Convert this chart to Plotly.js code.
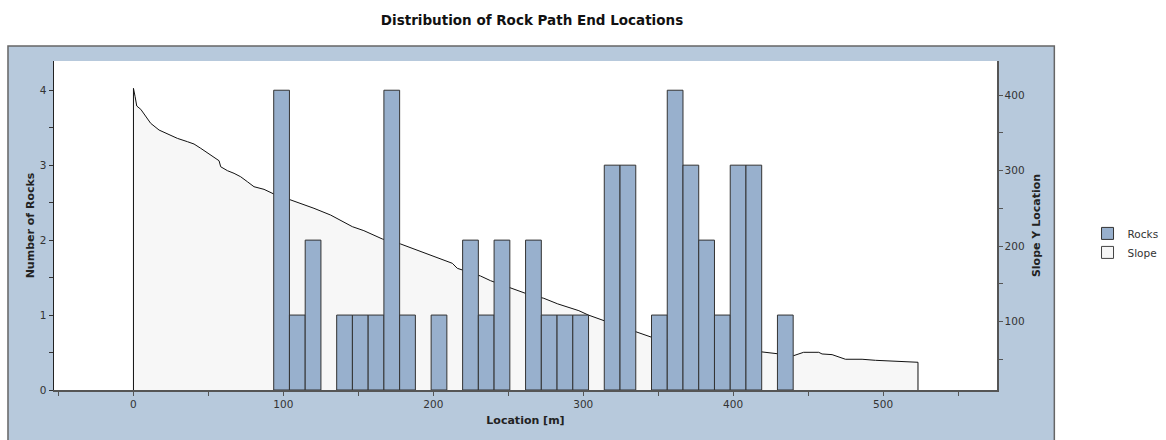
<!DOCTYPE html>
<html><head><meta charset="utf-8">
<script src="https://cdn.plot.ly/plotly-3.0.1.min.js"></script>
<style>body{margin:0;background:#fff}#chart{width:1166px;height:440px}</style>
</head><body><div id="chart"></div>
<script>
// Histogram bins (bin centre in m) and rock counts per bin
const binCenters = [98.8, 109.3, 119.8, 140.8, 151.3, 161.8, 172.3, 182.8, 203.8, 224.8, 235.3, 245.8,
  266.8, 277.3, 287.8, 298.3, 319.3, 329.8, 350.8, 361.3, 371.8, 382.3, 392.8, 403.3, 413.8, 434.8];
const rockCounts = [4, 1, 2, 1, 1, 1, 4, 1, 1, 2, 1, 2,
  2, 1, 1, 1, 3, 3, 1, 4, 3, 2, 1, 3, 3, 1];

// Slope profile (location m, slope Y location)
const slopeX = [0, 0, 1.1, 2.2, 4.9, 8.2, 11.5, 17.1, 22.7, 29.3, 36, 40.4, 44.9, 49.3, 53.7, 57.1, 58.2,
  62.7, 67.1, 71.5, 76, 80.4, 87.1, 93.7, 103.7, 111.5, 120.4, 131.5, 146, 153.7, 166, 178.2, 191.5,
  204.9, 212.7, 216, 231.5, 238.2, 251.5, 262.7, 273.7, 283, 297.1, 303.3, 314, 335, 345.7, 380, 419,
  429.3, 440.4, 447, 457.1, 459.3, 466, 474.9, 483.8, 486, 494.9, 507.1, 516, 523.3, 523.3];
const slopeY = [0, 408.8, 397.7, 385.4, 381, 371.2, 362.5, 353.6, 348.3, 342.6, 338.2, 335.1, 329.4, 323.6,
  317.5, 313, 305, 299.8, 296.3, 291.8, 285.2, 278.6, 275.1, 268.9, 261.9, 256.6, 250, 241.1, 225.7,
  220.4, 209.4, 202.8, 192.6, 182.5, 177.2, 170.6, 160.4, 154.2, 144.1, 136.6, 130.9, 123.5, 114.5,
  108.8, 101.2, 86.7, 79.3, 69, 59.4, 57.2, 55, 59.4, 59.4, 57.2, 56.3, 50.2, 51, 50.2, 48.8, 47.5,
  46.2, 46.2, 0];

const FONT = "DejaVu Sans, Verdana, sans-serif";
const AX = '#555555';

const traces = [
  { // slope on base axis (right)
    type: 'scatter', mode: 'lines', x: slopeX, y: slopeY, xaxis: 'x', yaxis: 'y',
    fill: 'toself', fillcolor: '#f7f7f7', line: {color: '#111', width: 1},
    showlegend: false, hoverinfo: 'skip', name: 'Slope'
  },
  { // rocks on overlay axis (left), drawn above slope
    type: 'bar', x: binCenters, y: rockCounts, xaxis: 'x', yaxis: 'y2', name: 'Rocks',
    width: 10.5, marker: {color: '#98b0cd', line: {color: '#333', width: 1}}
  },
  { // legend entry for slope
    type: 'bar', x: [null], y: [null], xaxis: 'x', yaxis: 'y2', name: 'Slope',
    marker: {color: '#f7f7f7', line: {color: '#444', width: 1}}
  }
];

const layout = {
  width: 1166, height: 440,
  margin: {l: 54, r: 169, t: 61, b: 50, autoexpand: false},
  paper_bgcolor: '#ffffff', plot_bgcolor: 'rgba(0,0,0,0)',
  font: {family: FONT, size: 10.5, color: '#333'},
  title: {text: 'Distribution of Rock Path End Locations', x: 532/1166, xref: 'container',
    y: 1 - 20/440, yref: 'container', xanchor: 'center', yanchor: 'middle',
    font: {family: FONT, size: 13.5, weight: 'bold', color: '#111'}},
  barmode: 'overlay', bargap: 0,
  xaxis: {range: [-53, 576], dtick: 100, tick0: 0, ticks: 'outside', ticklen: 4, tickcolor: AX,
    minor: {dtick: 50, tick0: 0, ticks: 'outside', ticklen: 4, tickcolor: AX},
    showline: true, linecolor: AX, linewidth: 1.5, showgrid: false, zeroline: false,
    tickfont: {size: 10.5, color: '#333'},
    title: {text: 'Location [m]', standoff: 7, font: {size: 11, weight: 'bold', color: '#222'}}},
  yaxis: {side: 'right', range: [9.5, 445], dtick: 100, tick0: 0, ticks: 'outside', ticklen: 4, tickcolor: AX,
    minor: {dtick: 50, tick0: 0, ticks: 'outside', ticklen: 4, tickcolor: AX},
    showline: true, linecolor: AX, linewidth: 1.5, showgrid: false, zeroline: false,
    tickfont: {size: 10.5, color: '#333'},
    title: {text: 'Slope Y Location', standoff: 8, font: {size: 11, weight: 'bold', color: '#222'}}},
  yaxis2: {overlaying: 'y', side: 'left', range: [0, 4.39], dtick: 1, tick0: 0, ticks: 'outside', ticklen: 4, tickcolor: '#333',
    minor: {dtick: 0.5, tick0: 0, ticks: 'outside', ticklen: 4, tickcolor: '#333'},
    showline: true, linecolor: '#222', linewidth: 1.5, showgrid: false, zeroline: false,
    tickfont: {size: 10.5, color: '#333'},
    title: {text: 'Number of Rocks', standoff: 3, font: {size: 11, weight: 'bold', color: '#222'}}},
  legend: {x: 1.096, y: 0.52, xanchor: 'left', yanchor: 'top', bgcolor: 'rgba(0,0,0,0)',
    font: {size: 10.5, color: '#333'}, traceorder: 'normal', itemclick: false},
  shapes: [
    {type: 'rect', xref: 'paper', yref: 'paper', x0: -0.0488, x1: 1.0608, y0: -0.25, y1: 1.0456,
      fillcolor: '#b7c9dc', line: {color: '#666', width: 1.5}, layer: 'below'},
    {type: 'rect', xref: 'paper', yref: 'paper', x0: 0, x1: 1, y0: 0, y1: 1,
      fillcolor: '#ffffff', line: {width: 0}, layer: 'below'}
  ]
};

Plotly.newPlot('chart', traces, layout, {displayModeBar: false, staticPlot: true});
</script>
</body></html>
